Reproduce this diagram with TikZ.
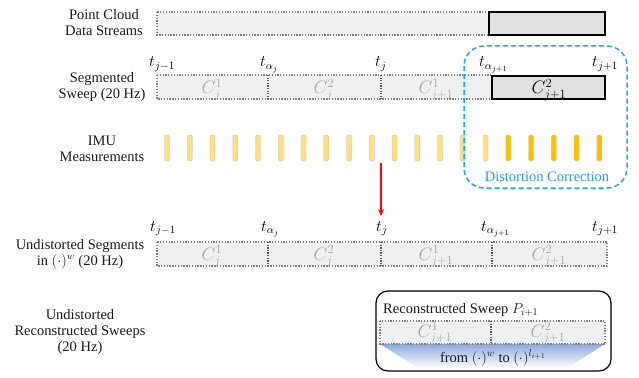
\RequirePackage{fix-cm}
\documentclass[tikz,border=0pt]{standalone}
\usepackage{fontspec}
\setmainfont{Liberation Serif}
\usetikzlibrary{arrows.meta}
\definecolor{barfill}{HTML}{EFF0F1}
\definecolor{darkfill}{HTML}{DFE1E2}
\definecolor{dotgray}{HTML}{808080}
\definecolor{divgray}{HTML}{595959}
\definecolor{clabel}{HTML}{A6A6A6}
\definecolor{imulight}{HTML}{FFDF80}
\definecolor{imudark}{HTML}{FFC000}
\definecolor{dcblue}{HTML}{1FA8E0}
\definecolor{dctext}{HTML}{2E9BD6}
\definecolor{shadeblue}{HTML}{8FAADC}
\definecolor{txtcol}{HTML}{1A1A1A}
\begin{document}
\begin{tikzpicture}[x=1pt,y=-1pt,
  txt/.style={font=\fontsize{14.5}{16}\selectfont, align=center, inner sep=0pt, text=txtcol},
  tlab/.style={font=\fontsize{16}{18}\selectfont, inner sep=0pt, anchor=base west},
  clab/.style={font=\fontsize{18}{20}\selectfont, text=clabel, inner sep=0pt, anchor=base},
  cdark/.style={font=\fontsize{18}{20}\selectfont, text=black, inner sep=0pt, anchor=base},
  dotbar/.style={draw=dotgray, line width=1.2pt, dash pattern=on 1.3pt off 1.5pt, fill=barfill},
  divider/.style={draw=divgray, line width=1.3pt, dash pattern=on 1.3pt off 1.3pt},
  solidbox/.style={draw=black, line width=1.5pt, fill=darkfill},
  imul/.style={fill=imulight, draw=black!25, line width=0.4pt, rounded corners=1.5pt},
  imud/.style={fill=imudark, draw=black!25, line width=0.4pt, rounded corners=1.5pt},
]
\useasboundingbox (0,0) rectangle (639,377);

% left labels
\node[txt] (lpc) at (104,23) {Point Cloud\\Data Streams};
\node[txt] (lseg) at (102,87) {Segmented\\Sweep (20 Hz)};
\node[txt] (limu) at (102,149) {IMU\\Measurements};
\node[txt] (lund) at (80,254) {Undistorted Segments\\in $(\cdot)^{w}$ (20 Hz)};
\node[txt] (lrec) at (80,332) {Undistorted\\Reconstructed Sweeps\\(20 Hz)};

% point cloud stream
\path[dotbar] (157,12) rectangle (489,35);
\path[solidbox] (489,12) rectangle (605,35);

% segmented sweep
\path[dotbar] (157,75) rectangle (492,99);
\draw[divider] (268,75) -- (268,99);
\draw[divider] (381,75) -- (381,99);
\path[solidbox] (492,76) rectangle (605,99);
\node[tlab] (s0) at (149,67) {$t_{j-1}$};
\node[tlab] (s1) at (260,67) {$t_{\alpha_j}$};
\node[tlab] (s2) at (375,67) {$t_{j}$};
\node[tlab] (s3) at (479,67) {$t_{\alpha_{j+1}}$};
\node[tlab] (s4) at (592,67) {$t_{j+1}$};
\node[clab] (sc1) at (212,94) {$C_j^1$};
\node[clab] (sc2) at (324,94) {$C_j^2$};
\node[clab] (sc3) at (436,94) {$C_{j+1}^1$};
\node[cdark] (sc4) at (549,94) {$C_{j+1}^2$};

% IMU bars
\foreach \k in {0,...,14}{
  \pgfmathsetmacro{\xx}{167+22.75*\k}
  \path[imul] (\xx-2.5,135) rectangle (\xx+2.5,161);
}
\foreach \k in {15,...,19}{
  \pgfmathsetmacro{\xx}{167+22.75*\k}
  \path[imud] (\xx-2.5,135) rectangle (\xx+2.5,161);
}

% distortion correction box
\draw[dcblue, line width=1.5pt, dash pattern=on 5pt off 3pt, rounded corners=20pt] (464,46) rectangle (627,188);
\node[txt, text=dctext] (dc) at (547,177) {Distortion Correction};

% red arrow
\coordinate (as) at (381,163);
\coordinate (ae) at (381,216);
\draw[red, line width=1.5pt, -{Stealth[length=7pt,width=6pt]}] (as) -- (ae);

% undistorted segments
\path[dotbar] (157,242) rectangle (607,266);
\draw[divider] (268,242) -- (268,266);
\draw[divider] (381,242) -- (381,266);
\draw[divider] (492,242) -- (492,266);
\node[tlab] (u0) at (150,231) {$t_{j-1}$};
\node[tlab] (u1) at (261,231) {$t_{\alpha_j}$};
\node[tlab] (u2) at (376,231) {$t_{j}$};
\node[tlab] (u3) at (481,231) {$t_{\alpha_{j+1}}$};
\node[tlab] (u4) at (592,231) {$t_{j+1}$};
\node[clab] (uc1) at (212,260) {$C_j^1$};
\node[clab] (uc2) at (324,260) {$C_j^2$};
\node[clab] (uc3) at (436,260) {$C_{j+1}^1$};
\node[clab] (uc4) at (549,260) {$C_{j+1}^2$};

% reconstructed sweep
\draw[line width=1.2pt, rounded corners=12pt, fill=white] (376,291) rectangle (611,371);
\node[txt, anchor=base west] (rs) at (383,313) {Reconstructed Sweep $P_{i+1}$};
\shade[top color=shadeblue, bottom color=white] (380,344) -- (605,344) -- (567,368) -- (418,368) -- cycle;
\path[dotbar] (380,321) rectangle (605,344);
\draw[divider] (491,321) -- (491,344);
\node[clab] (rc1) at (435,337) {$C_{j+1}^1$};
\node[clab] (rc2) at (548,337) {$C_{j+1}^2$};
\node[txt, anchor=base] (ft) at (493,362) {from $(\cdot)^{w}$ to $(\cdot)^{l_{i+1}}$};
\end{tikzpicture}
\end{document}
